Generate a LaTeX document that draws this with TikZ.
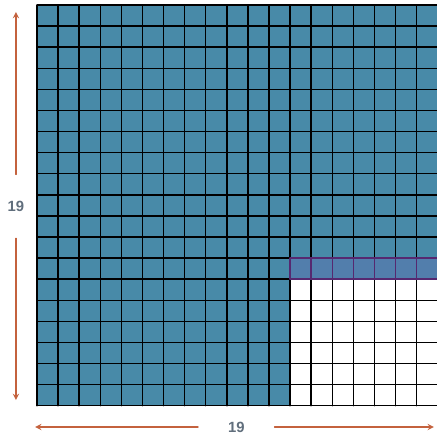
\documentclass[tikz,border=0pt]{standalone}
\usepackage{fontspec}
\setmainfont{Liberation Sans}
\definecolor{cellblue}{RGB}{72,138,168}
\definecolor{rowpurple}{RGB}{82,126,172}
\definecolor{edgepurple}{RGB}{86,40,112}
\definecolor{arrowred}{RGB}{196,98,62}
\definecolor{labgray}{RGB}{96,110,124}
\begin{document}
\begin{tikzpicture}[line join = round, line cap = round, >=stealth, font=\fontsize{10}{12}\selectfont\bfseries, scale=0.5]
				\def\n{19}\def\a{12}\def\b{6}
				\tikzset{lab/.style={text=labgray,inner sep=0pt},
					dim/.style={draw=arrowred,line width=0.9pt,->}}
				\useasboundingbox (-1.754,-1.53) rectangle (18.92,19.237);
				
				\fill[cellblue] (0,0) rectangle (\n,\n);
				\fill[white] (\a,0) rectangle (\n,\b);
				\fill[rowpurple] (\a,\b) rectangle (\n,\b+1);
				\draw[line width=1pt,step=1] (0,0) grid (\n,\n);
				\draw[edgepurple,line width=1pt,step=1] (\a,\b) grid (\n,\b+1);
				
				\path(-1,9.45)node[lab,minimum height=3cm*0.5](vlab){19}
				(9.45,-1.01)node[lab,minimum width=3.6cm*0.5](hlab){19};
				\coordinate (vtop) at (-1,18.67);
				\coordinate (vbot) at (-1,0.27);
				\coordinate (hleft) at (-0.09,-1.01);
				\coordinate (hright) at (18.82,-1.01);
				\foreach \x/\y in {vlab/vtop,vlab/vbot,hlab/hleft,hlab/hright}{
					\draw[dim] (\x)--(\y);	}
			\end{tikzpicture}
\end{document}
